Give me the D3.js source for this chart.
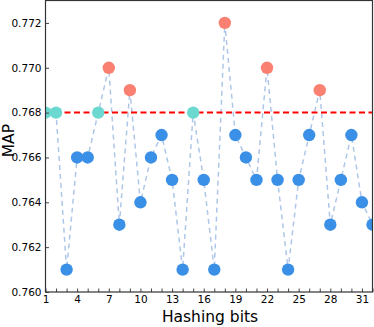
<!DOCTYPE html>
<html>
<head>
<meta charset="utf-8">
<script src="https://cdn.jsdelivr.net/npm/d3@7"></script>
<style>
  body { margin: 0; background: #fff; }
  text { font-family: "DejaVu Sans", sans-serif; }
</style>
</head>
<body>
<div id="chart"></div>
<script>
// hashing bits on x, MAP on y
var bits = d3.range(1, 33);
var mapValues = [0.768, 0.768, 0.761, 0.766, 0.766, 0.768, 0.770, 0.763,
                 0.769, 0.764, 0.766, 0.767, 0.765, 0.761, 0.768, 0.765,
                 0.761, 0.772, 0.767, 0.766, 0.765, 0.770, 0.765, 0.761,
                 0.765, 0.767, 0.769, 0.763, 0.765, 0.767, 0.764, 0.763];
var baseline = 0.768;
var xTicks = [1, 4, 7, 10, 13, 16, 19, 22, 25, 28, 31];
var yTicks = [0.760, 0.762, 0.764, 0.766, 0.768, 0.770, 0.772];

var width = 374, height = 327;
var margin = {top: 0.5, right: 1.5, bottom: 35, left: 45.5};

var svg = d3.select('#chart').append('svg')
  .attr('width', width).attr('height', height);

var x = d3.scaleLinear().domain([1, 32]).range([margin.left, width - margin.right]);
var y = d3.scaleLinear().domain([0.760, 0.773]).range([height - margin.bottom, margin.top]);

svg.append('clipPath').attr('id', 'clip')
  .append('rect')
  .attr('x', margin.left).attr('y', margin.top)
  .attr('width', width - margin.right - margin.left)
  .attr('height', height - margin.bottom - margin.top);

var plot = svg.append('g').attr('clip-path', 'url(#clip)');

// dashed line joining the points
var line = d3.line().x(function(d, i) { return x(bits[i]); }).y(function(d) { return y(d); });
plot.append('path')
  .datum(mapValues)
  .attr('d', line)
  .attr('fill', 'none')
  .attr('stroke', '#aec7e8')
  .attr('stroke-width', 1.5)
  .attr('stroke-dasharray', '5,4');

// reference line
plot.append('line')
  .attr('x1', x(1)).attr('x2', x(32))
  .attr('y1', y(baseline)).attr('y2', y(baseline))
  .attr('stroke', '#ff0000')
  .attr('stroke-width', 2)
  .attr('stroke-dasharray', '6,3.5');

function pointColor(v) {
  if (v > baseline) return '#fa8072';
  if (v === baseline) return '#6cd9d0';
  return '#3a8fe6';
}

plot.selectAll('circle')
  .data(mapValues)
  .enter().append('circle')
  .attr('cx', function(d, i) { return x(bits[i]); })
  .attr('cy', function(d) { return y(d); })
  .attr('r', 6.2)
  .attr('fill', pointColor);

// axes, ticks pointing inward; minor x ticks have no label
var xAxis = svg.append('g')
  .attr('transform', 'translate(0,' + (height - margin.bottom) + ')')
  .call(d3.axisBottom(x).tickValues(bits).tickSize(-3.5).tickPadding(4));
xAxis.selectAll('.tick text').filter(function(d) { return xTicks.indexOf(d) < 0; }).remove();

var yAxis = svg.append('g')
  .attr('transform', 'translate(' + margin.left + ',0)')
  .call(d3.axisLeft(y).tickValues(yTicks).tickSize(-3.5).tickPadding(4)
    .tickFormat(d3.format('.3f')));

[xAxis, yAxis].forEach(function(ax) {
  ax.select('.domain').remove();
  ax.selectAll('line').attr('stroke', '#444');
  ax.selectAll('text').attr('fill', '#000').style('font-size', '10.5px');
});

// frame
svg.append('rect')
  .attr('x', margin.left).attr('y', margin.top)
  .attr('width', width - margin.right - margin.left)
  .attr('height', height - margin.bottom - margin.top)
  .attr('fill', 'none')
  .attr('stroke', '#333')
  .attr('stroke-width', 1.2);

svg.append('text')
  .attr('x', 210)
  .attr('y', 322)
  .attr('text-anchor', 'middle')
  .style('font-size', '15.5px')
  .text('Hashing bits');

svg.append('text')
  .attr('transform', 'translate(14,' + y(0.76675) + ') rotate(-90)')
  .attr('text-anchor', 'middle')
  .style('font-size', '15.5px')
  .text('MAP');
</script>
</body>
</html>
